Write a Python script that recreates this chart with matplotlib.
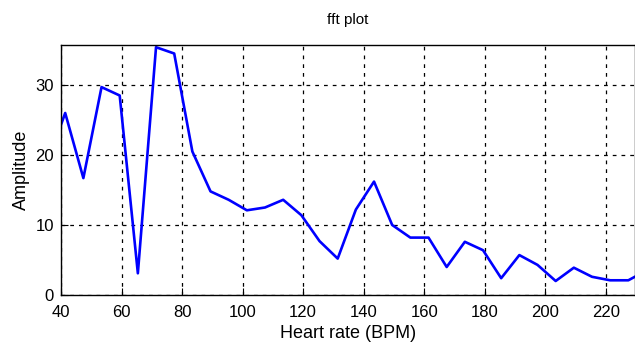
import matplotlib
matplotlib.use("Agg")
import matplotlib.pyplot as plt
from matplotlib import font_manager

# heart rate axis (BPM) and fft amplitude
bpm = [35.4, 41.4, 47.4, 53.4, 59.4, 65.4, 71.4, 77.4, 83.4, 89.4, 95.4,
       101.4, 107.4, 113.4, 119.4, 125.4, 131.4, 137.4, 143.4, 149.4, 155.4,
       161.4, 167.4, 173.4, 179.4, 185.4, 191.4, 197.4, 203.4, 209.4, 215.4,
       221.4, 227.4, 233.4]
amplitude = [18.7, 26.0, 16.7, 29.7, 28.5, 3.1, 35.4, 34.5, 20.5, 14.8, 13.6,
             12.1, 12.5, 13.6, 11.4, 7.7, 5.2, 12.2, 16.2, 10.0, 8.2,
             8.2, 4.0, 7.6, 6.4, 2.4, 5.7, 4.3, 2.0, 3.9, 2.6,
             2.1, 2.1, 3.5]
xticks = [40, 60, 80, 100, 120, 140, 160, 180, 200, 220]
yticks = [0, 10, 20, 30]

names = {f.name for f in font_manager.fontManager.ttflist}
font = "Liberation Sans Narrow" if "Liberation Sans Narrow" in names else "Liberation Sans"
plt.rcParams["font.family"] = [font, "DejaVu Sans"]

fig = plt.figure(figsize=(6.35, 3.58), dpi=100)
ax = fig.add_axes([0.096, 0.176, 0.904, 0.698])
ax.plot(bpm, amplitude, color="#0000ff", linewidth=1.9)
ax.set_xlim(40, 229.6)
ax.set_ylim(0, 35.7)
ax.set_xticks(xticks)
ax.set_yticks(yticks)
ax.grid(True, color="black", linestyle=(0, (3, 4)), linewidth=0.9)
ax.tick_params(direction="in", length=5, labelsize=12, colors="black")
ax.tick_params(axis="x", pad=7)
ax.tick_params(axis="y", pad=5)
for s in ax.spines.values():
    s.set_linewidth(1.0)
ax.set_title("fft plot", fontsize=11, pad=15)
ax.set_xlabel("Heart rate (BPM)", fontsize=13, labelpad=4)
ax.set_ylabel("Amplitude", fontsize=13, labelpad=4)

fig.savefig("out.png", dpi=100)
